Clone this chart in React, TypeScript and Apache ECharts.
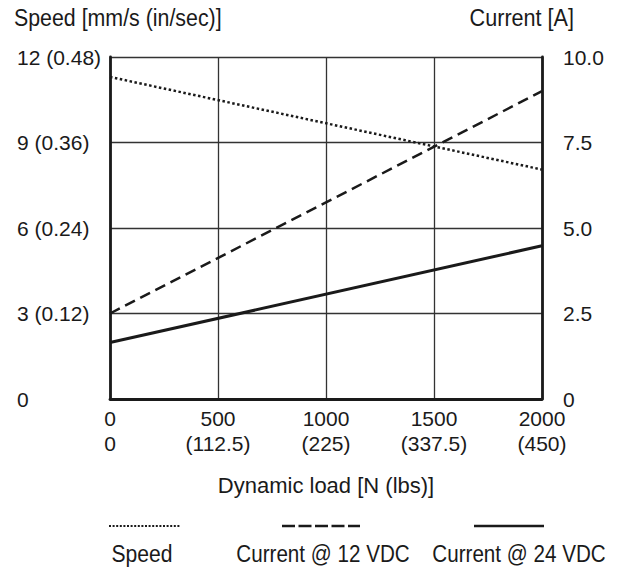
import React, { useEffect, useRef } from "react";
import * as echarts from "echarts";

const loadTicks = [0, 500, 1000, 1500, 2000];
const loadLbs = ["0", "(112.5)", "(225)", "(337.5)", "(450)"];
const speedTickLabels: Record<number, string> = { 0: "0", 3: "3 (0.12)", 6: "6 (0.24)", 9: "9 (0.36)", 12: "12 (0.48)" };
const currentTickLabels: Record<number, string> = { 0: "0", 2.5: "2.5", 5: "5.0", 7.5: "7.5", 10: "10.0" };

const loadX = [0, 2000];
const speedValues = [11.3, 8.05];
const current12Values = [2.5, 9.0];
const current24Values = [1.65, 4.48];

const legendNames = ["Speed", "Current @ 12 VDC", "Current @ 24 VDC"];

const FONT = "'Liberation Sans', Arial, sans-serif";
const INK = "#1a1a1a";

export default function App() {
  const ref = useRef<HTMLDivElement>(null);
  useEffect(() => {
    if (!ref.current) return;
    const chart = echarts.init(ref.current, undefined, { renderer: "svg" });
    const pairs = (ys: number[]) => loadX.map((x, i) => [x, ys[i]]);
    const legendY = 526;
    const legendTextY = 554;
    const condensed = (text: string, x: number, y: number, align: string, size: number, sx: number) => ({
      type: "text",
      x,
      y,
      scaleX: sx,
      style: { text, fontFamily: FONT, fontSize: size, fill: INK, align, verticalAlign: "middle" },
    });
    chart.setOption({
      animation: false,
      backgroundColor: "#ffffff",
      grid: { left: 110, right: 78, top: 57, bottom: 169, containLabel: false },
      xAxis: {
        type: "value",
        min: 0,
        max: 2000,
        interval: 500,
        name: "Dynamic load [N (lbs)]",
        nameLocation: "middle",
        nameGap: 75,
        nameTextStyle: { fontFamily: FONT, fontSize: 22, color: INK },
        axisLine: { show: true, lineStyle: { color: INK, width: 2.8 } },
        axisTick: { show: false },
        splitLine: { show: true, lineStyle: { color: "#333", width: 1.3 } },
        axisLabel: {
          margin: 7,
          fontFamily: FONT,
          fontSize: 21,
          color: INK,
          lineHeight: 25,
          formatter: (v: number) => {
            const i = loadTicks.indexOf(v);
            return i >= 0 ? `${v}\n${loadLbs[i]}` : "";
          },
        },
      },
      yAxis: [
        {
          type: "value",
          min: 0,
          max: 12,
          interval: 3,
          position: "left",
          axisLine: { show: true, lineStyle: { color: INK, width: 2.8 } },
          axisTick: { show: false },
          splitLine: { show: true, lineStyle: { color: "#333", width: 1.3 } },
          axisLabel: {
            margin: 93,
            align: "left",
            fontFamily: FONT,
            fontSize: 21,
            color: INK,
            formatter: (v: number) => speedTickLabels[v] ?? "",
          },
        },
        {
          type: "value",
          min: 0,
          max: 10,
          interval: 2.5,
          position: "right",
          axisLine: { show: true, lineStyle: { color: INK, width: 2.8 } },
          axisTick: { show: false },
          splitLine: { show: false },
          axisLabel: {
            margin: 21,
            align: "left",
            fontFamily: FONT,
            fontSize: 21,
            color: INK,
            formatter: (v: number) => currentTickLabels[v] ?? "",
          },
        },
      ],
      series: [
        {
          name: legendNames[0],
          type: "line",
          yAxisIndex: 0,
          data: pairs(speedValues),
          showSymbol: false,
          lineStyle: { color: INK, width: 2.5, type: [2.5, 2.5] },
        },
        {
          name: legendNames[1],
          type: "line",
          yAxisIndex: 1,
          data: pairs(current12Values),
          showSymbol: false,
          lineStyle: { color: INK, width: 2.5, type: [11, 6] },
        },
        {
          name: legendNames[2],
          type: "line",
          yAxisIndex: 1,
          data: pairs(current24Values),
          showSymbol: false,
          lineStyle: { color: INK, width: 3 },
        },
      ],
      graphic: [
        condensed("Speed [mm/s (in/sec)]", 14, 18, "left", 24, 0.89),
        condensed("Current [A]", 574, 18, "right", 24, 0.9),
        {
          type: "line",
          shape: { x1: 109, y1: legendY, x2: 180, y2: legendY },
          style: { stroke: INK, lineWidth: 2, lineDash: [2, 1.6] },
        },
        {
          type: "line",
          shape: { x1: 282, y1: legendY, x2: 360, y2: legendY },
          style: { stroke: INK, lineWidth: 2.6, lineDash: [13, 3.5] },
        },
        {
          type: "line",
          shape: { x1: 474, y1: legendY, x2: 544, y2: legendY },
          style: { stroke: INK, lineWidth: 2.6 },
        },
        condensed(legendNames[0], 142, legendTextY, "center", 24, 0.88),
        condensed(legendNames[1], 323, legendTextY, "center", 24, 0.86),
        condensed(legendNames[2], 519, legendTextY, "center", 24, 0.86),
      ],
    });
    return () => chart.dispose();
  }, []);
  return <div ref={ref} style={{ width: 620, height: 568, position: "absolute", left: 0, top: 0 }} />;
}
